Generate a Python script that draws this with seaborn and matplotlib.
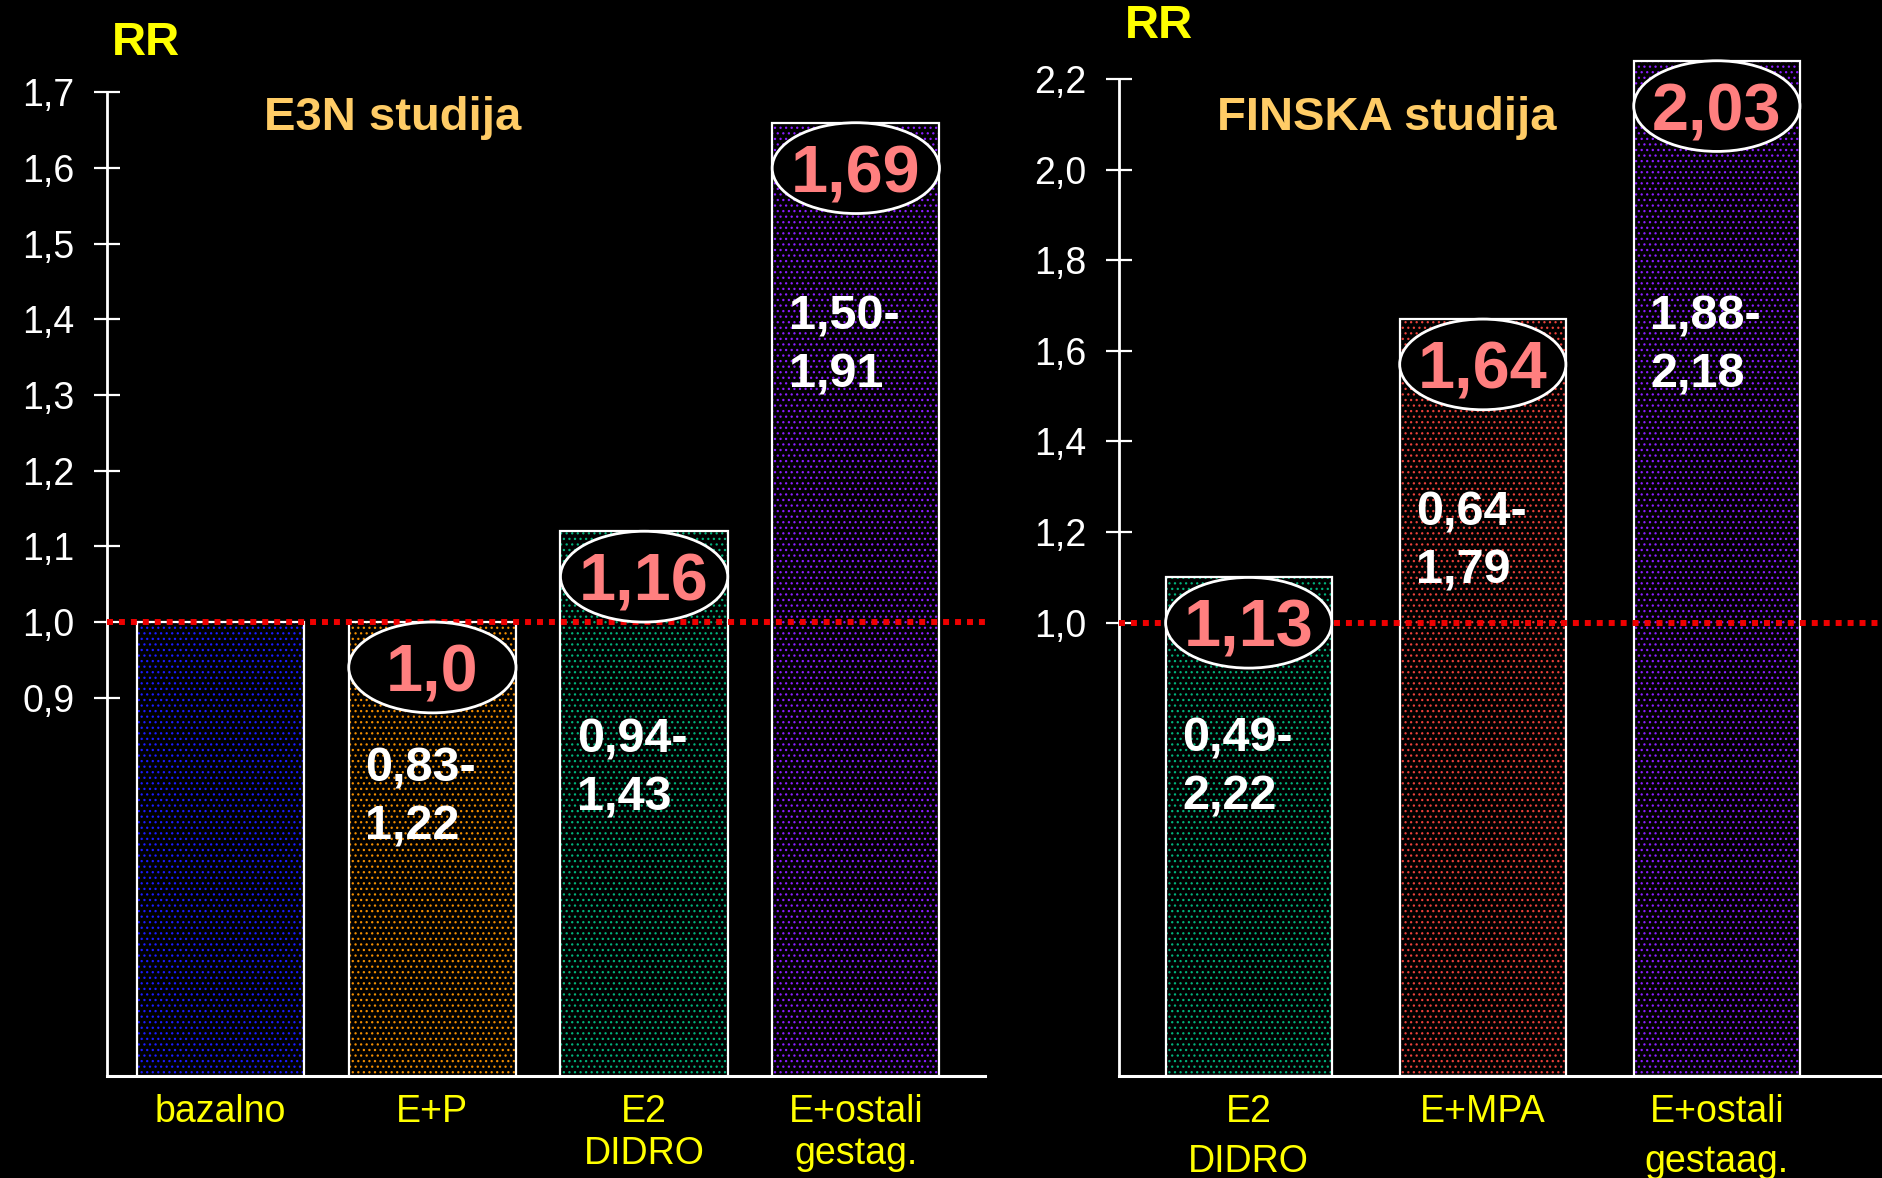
import matplotlib
matplotlib.use("Agg")
import matplotlib.pyplot as plt
from matplotlib.patches import Ellipse, Rectangle
import seaborn as sns

# Data
e3n_groups = ["bazalno", "E+P", "E2\nDIDRO", "E+ostali\ngestag."]
e3n_bar_rr = [1.0, 1.0, 1.12, 1.66]          # drawn bar heights
e3n_rr_text = ["", "1,0", "1,16", "1,69"]
e3n_ci_text = ["", "0,83-\n1,22", "0,94-\n1,43", "1,50-\n1,91"]
e3n_ci_y = [None, 0.767, 0.806, 1.365]
e3n_dots = ["#1a1aff", "#f08c00", "#00b07a", "#8a1cff"]

fin_groups = ["E2\nDIDRO", "E+MPA", "E+ostali\ngestaag."]
fin_bar_rr = [1.10, 1.67, 2.24]
fin_rr_text = ["1,13", "1,64", "2,03"]
fin_ci_text = ["0,49-\n2,22", "0,64-\n1,79", "1,88-\n2,18"]
fin_ci_y = [0.68, 1.178, 1.61]
fin_dots = ["#00b07a", "#e8403a", "#8a1cff"]

e3n_ticks = [0.9, 1.0, 1.1, 1.2, 1.3, 1.4, 1.5, 1.6, 1.7]
fin_ticks = [1.0, 1.2, 1.4, 1.6, 1.8, 2.0, 2.2]

sns.set_style("white")
plt.rcParams["font.family"] = ["Liberation Sans", "DejaVu Sans"]
plt.rcParams["hatch.linewidth"] = 0.9

fig = plt.figure(figsize=(18.83, 11.78), dpi=100, facecolor="black")
ax1 = fig.add_axes([0.0568, 0.0866, 0.4663, 0.8349])
ax2 = fig.add_axes([0.5943, 0.0866, 0.4057, 0.8772])


def draw_panel(ax, groups, vals, dots, width, ylim, bounds, ticks, fmt,
               rr_text, ci_text, ci_y, ell_h, xlim, lab_ls):
    ax.set_facecolor("black")
    sns.barplot(x=groups, y=vals, hue=groups, palette=dots, legend=False,
                width=width, ax=ax, zorder=2)
    for p, c in zip(ax.patches, dots):
        p.set_facecolor("black")
        p.set_edgecolor(c)
        p.set_hatch("...")
        p.set_linewidth(0)
        ax.add_patch(Rectangle((p.get_x(), p.get_y()), p.get_width(), p.get_height(),
                               fill=False, edgecolor="white", lw=1.6, zorder=2.5))
    ax.axhline(1.0, color="#ee0000", lw=4.3, ls=(0, (1, 1)), zorder=3)
    ax.set_xlim(*xlim)
    ax.set_ylim(*ylim)
    ax.set_xlabel("")
    ax.set_ylabel("")

    for p, rt, ct, cy in zip(ax.patches, rr_text, ci_text, ci_y):
        top = p.get_height()
        cx = p.get_x() + p.get_width() / 2
        if rt:
            ax.add_patch(Ellipse((cx, top - ell_h / 2), p.get_width(), ell_h,
                                 facecolor="black", edgecolor="white", lw=2, zorder=4))
            ax.text(cx, top - ell_h / 2, rt, color="#ff7f7f", fontsize=48,
                    fontweight="bold", ha="center", va="center_baseline", zorder=5)
        if ct:
            ax.annotate(ct, xy=(p.get_x(), cy), xytext=(12, 0), textcoords="offset points",
                        color="white", fontsize=35, fontweight="bold", ha="left",
                        va="center", linespacing=1.38, zorder=5)

    for s in ["top", "right"]:
        ax.spines[s].set_visible(False)
    ax.spines["left"].set_color("white")
    ax.spines["left"].set_linewidth(2)
    ax.spines["left"].set_bounds(*bounds)
    ax.spines["bottom"].set_color("white")
    ax.spines["bottom"].set_linewidth(2.2)
    ax.set_yticks(ticks)
    ax.set_yticklabels([fmt.format(t).replace(".", ",") for t in ticks])
    ax.tick_params(axis="y", direction="inout", length=19, width=1.6, color="white",
                   labelcolor="white", labelsize=27, pad=14, left=True)
    ax.tick_params(axis="x", length=0, labelcolor="#ffff00", labelsize=27, pad=13)
    for lab in ax.get_xticklabels():
        lab.set_linespacing(lab_ls)


draw_panel(ax1, e3n_groups, e3n_bar_rr, e3n_dots, 0.79, (0.4, 1.7), (0.4, 1.7),
           e3n_ticks, "{:.1f}", e3n_rr_text, e3n_ci_text, e3n_ci_y, 0.12,
           (-0.537, 3.61), 1.22)
draw_panel(ax2, fin_groups, fin_bar_rr, fin_dots, 0.71, (0.0, 2.28), (0.0, 2.2),
           fin_ticks, "{:.1f}", fin_rr_text, fin_ci_text, fin_ci_y, 0.2,
           (-0.554, 2.71), 1.5)

fig.text(0.0595, 0.9633, "RR", color="#ffff00", fontsize=34, fontweight="bold",
         ha="left", va="center")
fig.text(0.5975, 0.978, "RR", color="#ffff00", fontsize=34, fontweight="bold",
         ha="left", va="center")
fig.text(0.2087, 0.900, "E3N studija", color="#ffcc66", fontsize=34,
         fontweight="bold", ha="center", va="center")
fig.text(0.7366, 0.900, "FINSKA studija", color="#ffcc66", fontsize=34,
         fontweight="bold", ha="center", va="center")

plt.savefig("out.png", dpi=100, facecolor="black")
